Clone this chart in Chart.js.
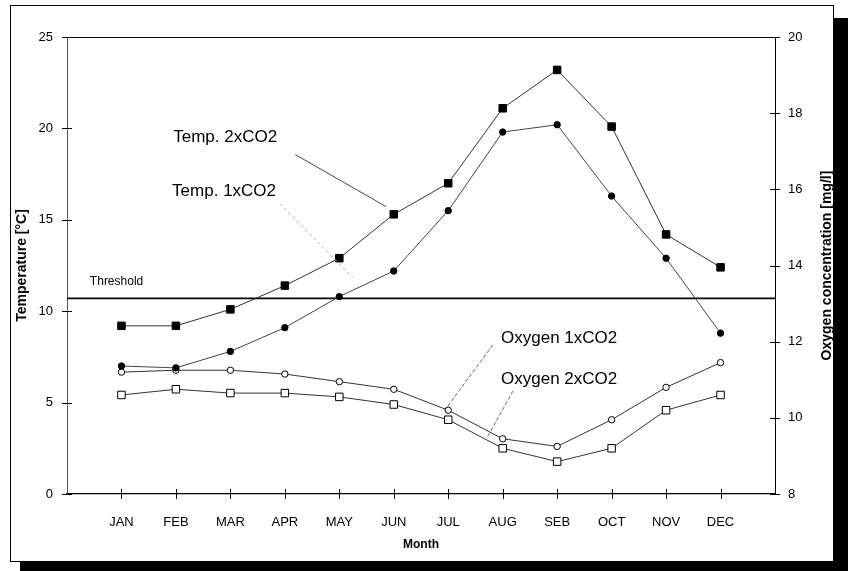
<!DOCTYPE html>
<html>
<head>
<meta charset="utf-8">
<script src="https://cdn.jsdelivr.net/npm/chart.js@4/dist/chart.umd.min.js"></script>
<style>
  html, body { margin: 0; padding: 0; background: #fff; }
  body { width: 848px; height: 571px; position: relative; overflow: hidden; }
  #frame { position: absolute; left: 10px; top: 5px; width: 822px; height: 555px; border: 1px solid #000; background: #fff; }
  #shR { position: absolute; left: 834px; top: 18px; width: 14px; height: 553px; background: #000; }
  #shB { position: absolute; left: 20px; top: 562px; width: 828px; height: 9px; background: #000; }
  #c { position: absolute; left: 0; top: 0; }
</style>
</head>
<body>
<div id="shR"></div>
<div id="shB"></div>
<div id="frame"></div>
<canvas id="c" width="848" height="571"></canvas>
<script>
// ---- data ----
const months = ['JAN','FEB','MAR','APR','MAY','JUN','JUL','AUG','SEB','OCT','NOV','DEC'];
const temp2xCO2 = [9.2, 9.2, 10.1, 11.4, 12.9, 15.3, 17.0, 21.1, 23.2, 20.1, 14.2, 12.4];
const temp1xCO2 = [7.0, 6.9, 7.8, 9.1, 10.8, 12.2, 15.5, 19.8, 20.2, 16.3, 12.9, 8.8];
const oxygen1xCO2 = [11.2, 11.25, 11.25, 11.15, 10.95, 10.75, 10.2, 9.45, 9.25, 9.95, 10.8, 11.45];
const oxygen2xCO2 = [10.6, 10.75, 10.65, 10.65, 10.55, 10.35, 9.95, 9.2, 8.85, 9.2, 10.2, 10.6];
const thresholdValue = 10.7;
const tempTicks = [0, 5, 10, 15, 20, 25];
const oxygenTicks = [8, 10, 12, 14, 16, 18, 20];

const toXY = arr => arr.map((v, i) => ({x: i + 1, y: v}));

const FONT = '"Liberation Sans", Arial, sans-serif';

// series labels with leader lines (positions in data units)
const notes = [
  {text: 'Temp. 2xCO2', x: 1.95, y: 19.5, line: [[4.19, 18.57], [5.86, 15.72]], color: '#444', dash: []},
  {text: 'Temp. 1xCO2', x: 1.93, y: 16.54, line: [[3.91, 15.88], [5.25, 11.83]], color: '#aaa', dash: [3, 3]},
  {text: 'Oxygen 1xCO2', x: 7.97, y: 8.54, line: [[7.82, 8.16], [6.98, 4.76]], color: '#666', dash: [4, 2]},
  {text: 'Oxygen 2xCO2', x: 7.97, y: 6.30, line: [[8.19, 5.64], [7.71, 3.07]], color: '#666', dash: [4, 2]}
];

const decor = {
  id: 'decor',
  afterDatasetsDraw(chart) {
    const {ctx, chartArea: a, scales} = chart;
    const xs = scales.x, yl = scales.y, yr = scales.y1;
    ctx.save();
    ctx.strokeStyle = '#000'; ctx.lineWidth = 1;
    ctx.beginPath(); ctx.moveTo(a.left, a.top + 0.5); ctx.lineTo(a.right, a.top + 0.5); ctx.stroke();
    ctx.beginPath();
    yl.ticks.forEach(t => { const p = Math.round(yl.getPixelForValue(t.value)) + 0.5; ctx.moveTo(a.left - 5, p); ctx.lineTo(a.left + 5, p); });
    yr.ticks.forEach(t => { const p = Math.round(yr.getPixelForValue(t.value)) + 0.5; ctx.moveTo(a.right - 5, p); ctx.lineTo(a.right + 5, p); });
    xs.ticks.forEach(t => { if (t.value >= 1 && t.value <= 12) { const p = Math.round(xs.getPixelForValue(t.value)) + 0.5; ctx.moveTo(p, a.bottom - 5); ctx.lineTo(p, a.bottom + 5); } });
    ctx.stroke();
    ctx.fillStyle = '#000';
    ctx.font = '12px ' + FONT;
    ctx.textBaseline = 'middle'; ctx.textAlign = 'left';
    ctx.fillText('Threshold', xs.getPixelForValue(0.42), yl.getPixelForValue(11.6));
    ctx.font = '17px ' + FONT;
    notes.forEach(n => {
      ctx.fillStyle = '#000';
      ctx.fillText(n.text, xs.getPixelForValue(n.x), yl.getPixelForValue(n.y));
      ctx.strokeStyle = n.color; ctx.setLineDash(n.dash); ctx.lineWidth = 1;
      ctx.beginPath();
      ctx.moveTo(xs.getPixelForValue(n.line[0][0]), yl.getPixelForValue(n.line[0][1]));
      ctx.lineTo(xs.getPixelForValue(n.line[1][0]), yl.getPixelForValue(n.line[1][1]));
      ctx.stroke();
    });
    ctx.setLineDash([]);
    ctx.save();
    ctx.translate(827, (a.top + a.bottom) / 2);
    ctx.rotate(-Math.PI / 2);
    ctx.font = 'bold 14px ' + FONT;
    ctx.textAlign = 'center'; ctx.textBaseline = 'middle';
    ctx.fillStyle = '#000';
    ctx.fillText('Oxygen concentration [mg/l]', 0, 0);
    ctx.restore();
    ctx.restore();
  }
};

const lineBase = {borderColor: '#333', borderWidth: 1, tension: 0, pointBorderColor: '#000', pointBorderWidth: 1};

new Chart(document.getElementById('c'), {
  type: 'line',
  data: {
    datasets: [
      Object.assign({}, lineBase, {label: 'Temp. 2xCO2', data: toXY(temp2xCO2), yAxisID: 'y', pointStyle: 'rect', pointRadius: 5.3, pointBackgroundColor: '#000'}),
      Object.assign({}, lineBase, {label: 'Temp. 1xCO2', data: toXY(temp1xCO2), yAxisID: 'y', borderColor: '#444', pointStyle: 'circle', pointRadius: 3.2, pointBackgroundColor: '#000'}),
      Object.assign({}, lineBase, {label: 'Oxygen 1xCO2', data: toXY(oxygen1xCO2), yAxisID: 'y1', pointStyle: 'circle', pointRadius: 3.2, pointBackgroundColor: '#fff'}),
      Object.assign({}, lineBase, {label: 'Oxygen 2xCO2', data: toXY(oxygen2xCO2), yAxisID: 'y1', pointStyle: 'rect', pointRadius: 5.3, pointBackgroundColor: '#fff'}),
      {label: 'Threshold', data: [{x: 0, y: thresholdValue}, {x: 13, y: thresholdValue}], yAxisID: 'y', borderColor: '#000', borderWidth: 1.6, pointRadius: 0}
    ]
  },
  options: {
    responsive: false,
    animation: false,
    devicePixelRatio: 1,
    layout: {padding: {top: 37, left: 0, right: 0, bottom: 0}},
    plugins: {legend: {display: false}, tooltip: {enabled: false}},
    scales: {
      x: {
        type: 'linear', min: 0, max: 13,
        grid: {display: false, drawTicks: false},
        border: {display: true, color: '#000', width: 1.3},
        ticks: {
          stepSize: 1, autoSkip: false, maxRotation: 0, padding: 21,
          color: '#000', font: {family: FONT, size: 13},
          callback: v => (v >= 1 && v <= 12) ? months[v - 1] : ''
        },
        title: {display: true, text: 'Month', color: '#000', font: {family: FONT, size: 12, weight: 'bold'}, padding: {top: 0, bottom: 19}},
        afterFit: s => { s.height = 77; }
      },
      y: {
        type: 'linear', position: 'left', min: 0, max: 25,
        afterBuildTicks: s => { s.ticks = tempTicks.map(v => ({value: v})); },
        grid: {display: false, drawTicks: false},
        border: {display: true, color: '#555', width: 1},
        ticks: {padding: 14, color: '#000', font: {family: FONT, size: 13}},
        title: {display: true, text: 'Temperature [°C]', color: '#000', font: {family: FONT, size: 14, weight: 'bold'}, padding: {top: 14, bottom: 0}},
        afterFit: s => { s.width = 67; }
      },
      y1: {
        type: 'linear', position: 'right', min: 8, max: 20,
        afterBuildTicks: s => { s.ticks = oxygenTicks.map(v => ({value: v})); },
        grid: {display: false, drawTicks: false},
        border: {display: true, color: '#000', width: 1},
        ticks: {padding: 13, color: '#000', font: {family: FONT, size: 13}},
        afterFit: s => { s.width = 73; }
      }
    }
  },
  plugins: [decor]
});
</script>
</body>
</html>
